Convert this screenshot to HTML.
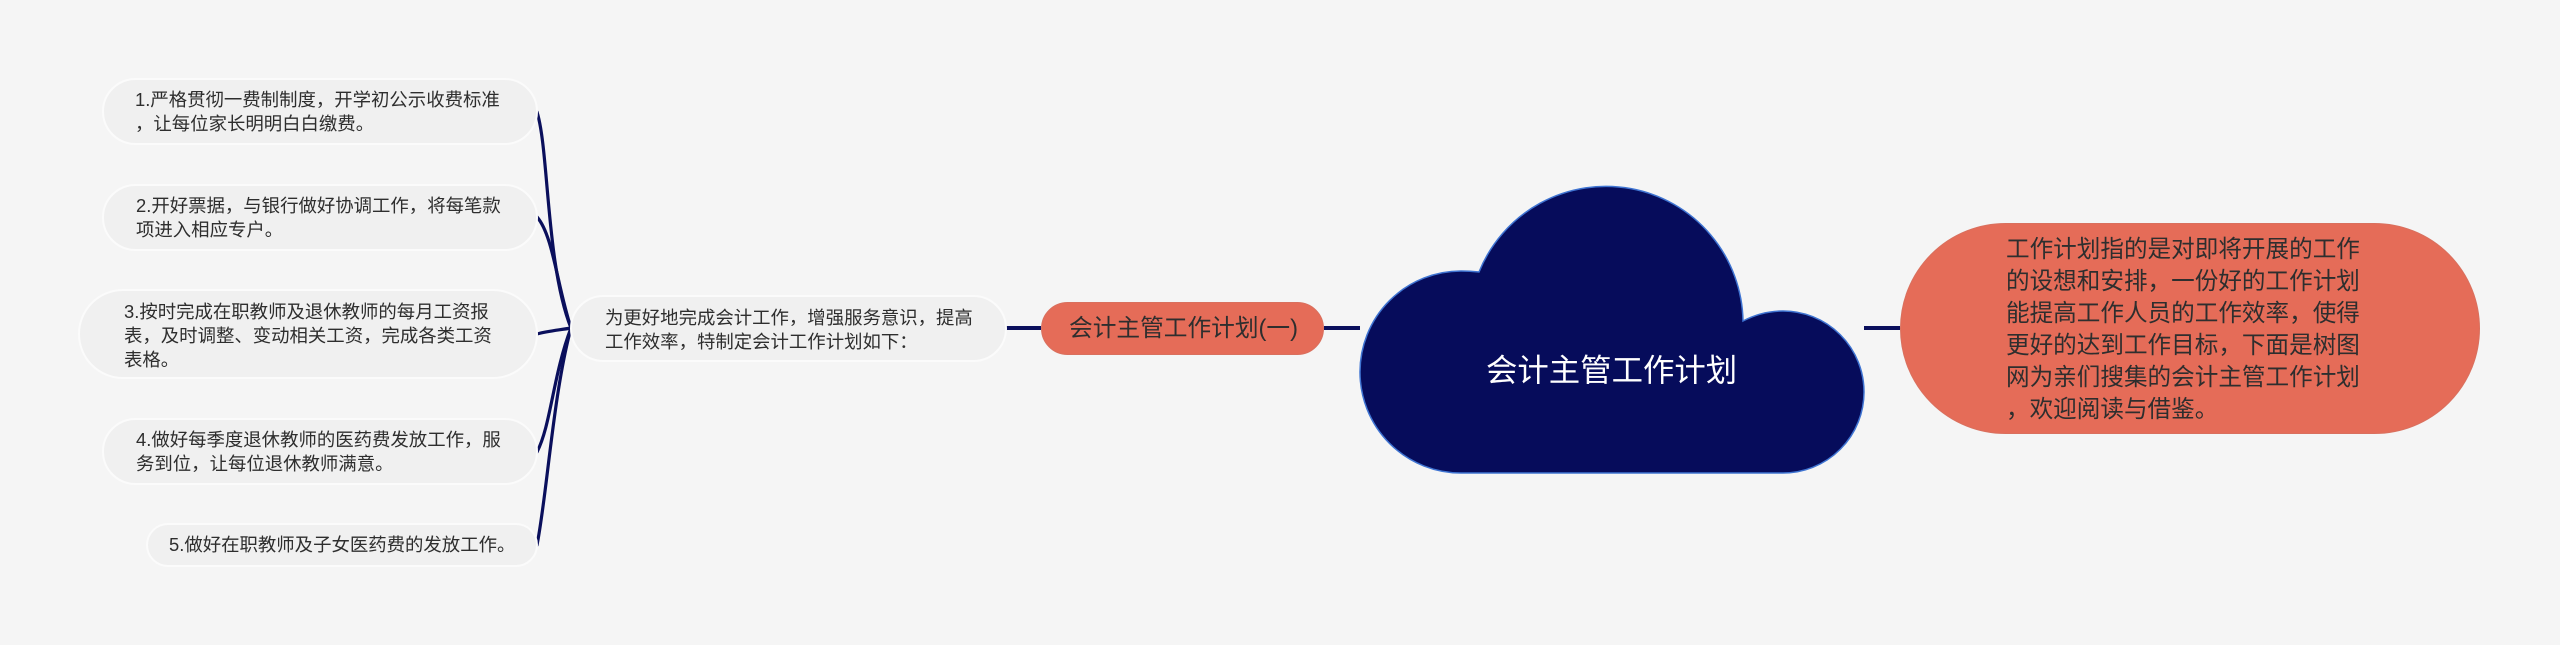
<!DOCTYPE html>
<html lang="zh">
<head>
<meta charset="utf-8">
<title>会计主管工作计划</title>
<style>
html,body{margin:0;padding:0;width:2560px;height:645px;overflow:hidden;background:#f5f5f5;}
body{position:relative;font-family:"Liberation Sans","Noto Sans CJK SC",sans-serif;color:#2e2e2e;}
svg{position:absolute;left:0;top:0;}
.b{position:absolute;box-sizing:border-box;background:#f0f0f0;border:2px solid #fbfbfb;}
.t{position:absolute;white-space:nowrap;font-size:18.4px;line-height:23.8px;}
</style>
</head>
<body>
<svg width="2560" height="645" viewBox="0 0 2560 645" fill="none">
  <g stroke="#0a0f5c" stroke-width="3.2" stroke-linecap="round">
    <path d="M537 112 C549 150 546 265 571 328"/>
    <path d="M537 217 C553 235 557 285 571 328"/>
    <path d="M537 334 C548 331 560 330 571 328"/>
    <path d="M537 452 C551 425 553 375 571 328"/>
    <path d="M537 545 C547 495 553 395 571 328"/>
  </g>
  <g stroke="#0a0f5c" stroke-width="4">
    <path d="M1006 328H1041"/>
    <path d="M1324 328H1360"/>
    <path d="M1864 328H1900"/>
  </g>
  <path d="M1461 473 A101 101 0 0 1 1461 271 Q1470 271 1479 272 A137 137 0 0 1 1743 321 Q1762 311 1783 311 A81 81 0 0 1 1783 473 Z" fill="#060c5b" stroke="#3f74d2" stroke-width="1.5"/>
</svg>

<div class="b" style="left:102px;top:78px;width:436px;height:67px;border-radius:34px"></div>
<div class="b" style="left:102px;top:184px;width:436px;height:67px;border-radius:34px"></div>
<div class="b" style="left:78px;top:289px;width:460px;height:90px;border-radius:45px"></div>
<div class="b" style="left:102px;top:418px;width:436px;height:67px;border-radius:34px"></div>
<div class="b" style="left:146px;top:523px;width:392px;height:44px;border-radius:22px"></div>
<div class="b" style="left:570px;top:295px;width:437px;height:67px;border-radius:34px"></div>
<div class="b" style="left:1041px;top:302px;width:283px;height:53px;border-radius:27px;background:#e56c58;border:1px solid #d9705e"></div>
<div class="b" style="left:1900px;top:223px;width:580px;height:211px;border-radius:106px;background:#e56c58;border:1px solid #d9705e"></div>

<div class="t" style="left:135px;top:88px">1.严格贯彻一费制制度，开学初公示收费标准<br>，让每位家长明明白白缴费。</div>
<div class="t" style="left:136px;top:194px">2.开好票据，与银行做好协调工作，将每笔款<br>项进入相应专户。</div>
<div class="t" style="left:124px;top:300px">3.按时完成在职教师及退休教师的每月工资报<br>表，及时调整、变动相关工资，完成各类工资<br>表格。</div>
<div class="t" style="left:136px;top:428px">4.做好每季度退休教师的医药费发放工作，服<br>务到位，让每位退休教师满意。</div>
<div class="t" style="left:169px;top:533px">5.做好在职教师及子女医药费的发放工作。</div>
<div class="t" style="left:605px;top:306px">为更好地完成会计工作，增强服务意识，提高<br>工作效率，特制定会计工作计划如下：</div>
<div class="t" style="left:1069px;top:313px;font-size:23.7px;line-height:32px">会计主管工作计划(一)</div>
<div class="t" style="left:1486px;top:351px;font-size:31.4px;line-height:40px;color:#fff">会计主管工作计划</div>
<div class="t" style="left:2006px;top:234px;font-size:23.6px;line-height:32px">工作计划指的是对即将开展的工作<br>的设想和安排，一份好的工作计划<br>能提高工作人员的工作效率，使得<br>更好的达到工作目标，下面是树图<br>网为亲们搜集的会计主管工作计划<br>，欢迎阅读与借鉴。</div>
</body>
</html>
